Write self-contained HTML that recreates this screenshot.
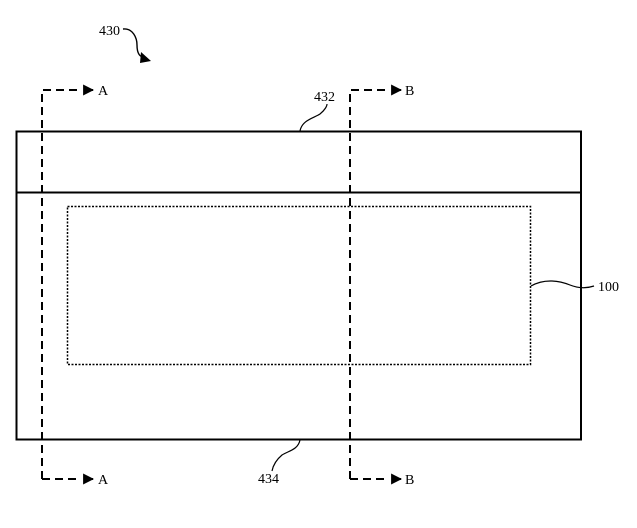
<!DOCTYPE html>
<html><head><meta charset="utf-8"><style>
html,body{margin:0;padding:0;background:#fff;width:637px;height:528px;overflow:hidden}
text{font-family:"Liberation Serif",serif;font-size:14px;fill:#000}
</style></head><body>
<svg width="637" height="528" viewBox="0 0 637 528" xmlns="http://www.w3.org/2000/svg">
<defs><marker id="ah" viewBox="0 0 10 10" refX="9" refY="5" markerWidth="11" markerHeight="11" markerUnits="userSpaceOnUse" orient="auto"><path d="M0,0 L10,5 L0,10 z" fill="#000"/></marker></defs>
<rect x="16.5" y="131.5" width="564.5" height="308" fill="none" stroke="#000" stroke-width="2"/>
<line x1="16.5" y1="192.5" x2="581" y2="192.5" stroke="#000" stroke-width="2"/>
<rect x="67.5" y="206.5" width="463" height="158" fill="none" stroke="#000" stroke-width="1.5" stroke-dasharray="2,1.5"/>
<g fill="none" stroke="#000" stroke-width="2" stroke-dasharray="8,5">
<path d="M42,479 L42,90 L80,90"/>
<path d="M42,479 L80,479"/>
<path d="M350,479 L350,90 L388,90"/>
<path d="M350,479 L388,479"/>
</g>
<g stroke="#000" stroke-width="2">
<line x1="84" y1="90" x2="93" y2="90" marker-end="url(#ah)"/>
<line x1="84" y1="479" x2="93" y2="479" marker-end="url(#ah)"/>
<line x1="392" y1="90" x2="401" y2="90" marker-end="url(#ah)"/>
<line x1="392" y1="479" x2="401" y2="479" marker-end="url(#ah)"/>
</g>
<text x="98" y="95">A</text>
<text x="98" y="484">A</text>
<text x="405" y="95">B</text>
<text x="405" y="484">B</text>
<text x="99" y="35">430</text>
<path d="M123,29 C133,28 137,38 137,45 C137,54 140,57 145,58" fill="none" stroke="#000" stroke-width="1.4"/>
<path d="M141,52 L151,61 L140,63 z" fill="#000"/>
<text x="314" y="101">432</text>
<path d="M300,131 C302,120 314,118 320,114 C325,110 327,106 327,104" fill="none" stroke="#000" stroke-width="1.2"/>
<text x="258" y="483">434</text>
<path d="M300,440 C298,450 288,451 282,455 C276,460 273,466 272,471" fill="none" stroke="#000" stroke-width="1.2"/>
<path d="M531,286 C545,278 560,281 570,285 C580,289 588,288 594,286" fill="none" stroke="#000" stroke-width="1.2"/>
<text x="598" y="291">100</text>
</svg>
</body></html>
